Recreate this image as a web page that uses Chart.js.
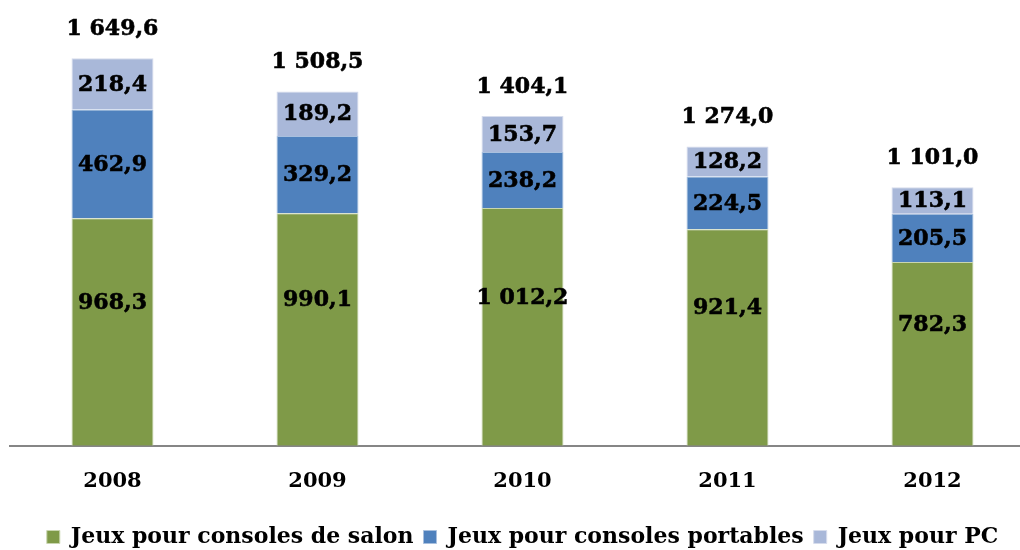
<!DOCTYPE html>
<html lang="fr">
<head>
<meta charset="utf-8">
<script src="https://cdn.jsdelivr.net/npm/chart.js@4.4.1/dist/chart.umd.min.js"></script>
<style>
  html, body { margin: 0; padding: 0; background: #fff; overflow: hidden; }
  #wrap { width: 1035px; height: 550px; }
</style>
</head>
<body>
<div id="wrap"><canvas id="ventes"></canvas></div>
<script>
// Donnees
const annees = ['2008', '2009', '2010', '2011', '2012'];
const salon = [968.3, 990.1, 1012.2, 921.4, 782.3];
const portables = [462.9, 329.2, 238.2, 224.5, 205.5];
const pc = [218.4, 189.2, 153.7, 128.2, 113.1];
const totaux = [1649.6, 1508.5, 1404.1, 1274.0, 1101.0];

const police = "'DejaVu Serif', serif";

// format francais : espace pour les milliers, virgule decimale
function fr(v) {
  const parts = v.toFixed(1).split('.');
  return parts[0].replace(/\B(?=(\d{3})+(?!\d))/g, ' ') + ',' + parts[1];
}

// etiquettes dans les segments + total au-dessus de chaque barre
const etiquettes = {
  id: 'etiquettes',
  afterDatasetsDraw(chart) {
    const ctx = chart.ctx;
    ctx.save();
    ctx.font = 'bold 22px ' + police;
    ctx.fillStyle = '#000';
    ctx.strokeStyle = '#000';
    ctx.lineWidth = 0.6;
    ctx.textAlign = 'center';
    ctx.textBaseline = 'middle';
    const ecrire = (txt, x, y) => { ctx.fillText(txt, x, y); ctx.strokeText(txt, x, y); };
    chart.data.datasets.forEach((ds, i) => {
      const meta = chart.getDatasetMeta(i);
      meta.data.forEach((bar, j) => {
        let y = (bar.y + bar.base) / 2;
        if (i === 0) y -= 30; // etiquette du salon remontee
        ecrire(fr(ds.data[j]), bar.x, y + 1);
      });
    });
    const haut = chart.getDatasetMeta(chart.data.datasets.length - 1);
    haut.data.forEach((bar, j) => {
      ecrire(fr(totaux[j]), bar.x, bar.y - 29);
    });
    ctx.restore();
  }
};

const ctx = document.getElementById('ventes').getContext('2d');
new Chart(ctx, {
  type: 'bar',
  data: {
    labels: annees,
    datasets: [
      { label: 'Jeux pour consoles de salon', data: salon, backgroundColor: '#7f9a48', borderColor: '#c9d6b0', borderWidth: 1 },
      { label: 'Jeux pour consoles portables', data: portables, backgroundColor: '#4f81bd', borderColor: '#a9c0de', borderWidth: 1 },
      { label: 'Jeux pour PC', data: pc, backgroundColor: '#a9b8d9', borderColor: '#d6dcec', borderWidth: 1 }
    ]
  },
  options: {
    responsive: true,
    maintainAspectRatio: false,
    animation: false,
    layout: { padding: { top: 30, left: 10, right: 0, bottom: -8 } },
    datasets: { bar: { categoryPercentage: 1, barPercentage: 0.4 } },
    scales: {
      x: {
        stacked: true,
        grid: { display: false },
        border: { color: '#868686', width: 2 },
        ticks: { color: '#000', padding: 15, font: { family: police, size: 21, weight: 'bold' } },
        afterFit(scale) { scale.height += 7; }
      },
      y: {
        stacked: true,
        display: false,
        min: 0,
        max: 1770
      }
    },
    plugins: {
      legend: {
        position: 'bottom',
        labels: {
          color: '#000',
          boxWidth: 13,
          boxHeight: 13,
          padding: 10,
          font: { family: police, size: 22, weight: 'bold' }
        }
      },
      tooltip: { enabled: false }
    }
  },
  plugins: [etiquettes]
});
</script>
</body>
</html>
